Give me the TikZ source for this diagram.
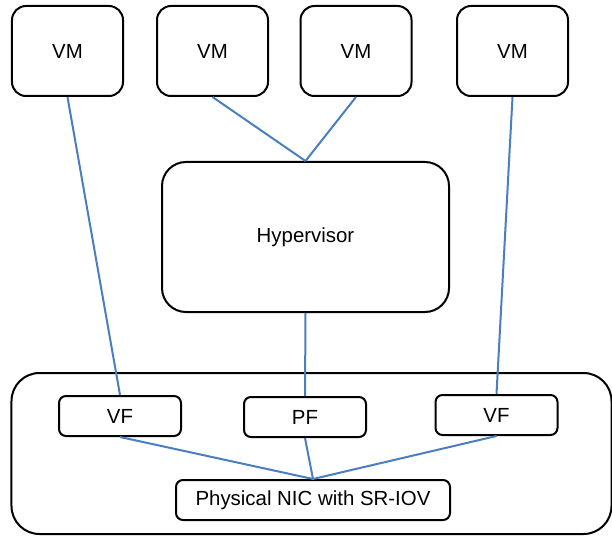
\documentclass[tikz,border=0pt]{standalone}
\usepackage{fontspec}
\setmainfont{Liberation Sans}
\usepackage{tikz}

\definecolor{linkblue}{RGB}{74,126,190}

\begin{document}
\begin{tikzpicture}[x=1bp,y=-1bp]
\useasboundingbox (0,0) rectangle (612,536);
\tikzset{box/.style={draw,line width=2bp,rounded corners=14bp,font=\fontsize{20.5}{22}\selectfont},
         link/.style={linkblue,line width=2bp}}

\node[box,minimum width=600bp,minimum height=161bp,rounded corners=28bp] (card) at (311.5,453.5) {};

\begin{scope}[every node/.style={box,minimum width=111bp,minimum height=90bp}]
    \node (vm1) at (67.5,51) {VM};
    \node (vm2) at (212.5,51) {VM};
    \node (vm3) at (356,51) {VM};
    \node (vm4) at (512.5,51) {VM};
\end{scope}

\node[box,minimum width=287bp,minimum height=150bp,rounded corners=24bp] (hyp) at (305.5,237) {Hypervisor};

\begin{scope}[every node/.style={box,minimum width=122bp,minimum height=40bp,rounded corners=7bp}]
    \node (vf1) at (120,416) {VF};
    \node (pf) at (305,417) {PF};
    \node (vf2) at (496.5,415) {VF};
\end{scope}
\node[box,minimum width=274bp,minimum height=40bp,rounded corners=7bp] (nic) at (313,500) {Physical NIC with SR-IOV};

\draw[link] (vm1.south) -- (vf1.north);
\draw[link] (vm2.south) -- (hyp.north);
\draw[link] (vm3.south) -- (hyp.north);
\draw[link] (vm4.south) -- (vf2.north);
\draw[link] (hyp.south) -- (pf.north);
\draw[link] (vf1.south) -- (nic.north);
\draw[link] (pf.south) -- (nic.north);
\draw[link] (vf2.south) -- (nic.north);
\end{tikzpicture}
\end{document}
